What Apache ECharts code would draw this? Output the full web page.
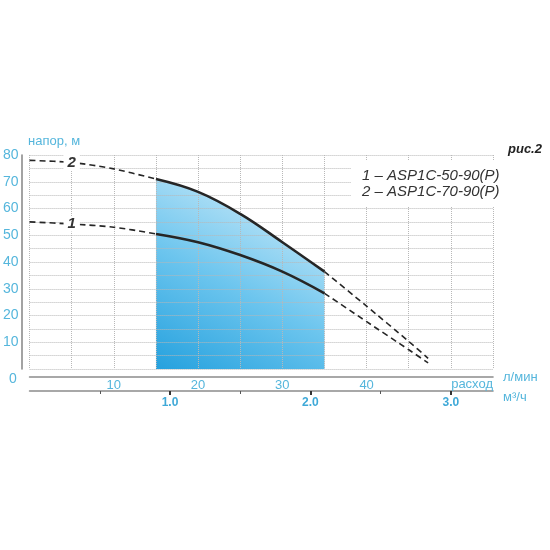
<!DOCTYPE html>
<html>
<head>
<meta charset="utf-8">
<script src="https://cdn.jsdelivr.net/npm/echarts@6/dist/echarts.min.js"></script>
<style>
  html, body { margin: 0; padding: 0; background: #fff; }
  #chart { width: 550px; height: 550px; }
</style>
</head>
<body>
<div id="chart"></div>
<script>
// flow, l/min
const flowStart = [0, 5, 10, 15];
const flowWork = [15, 20, 25, 30, 35];
const flowEnd = [35, 40, 45, 47.3];

// head, m  (1 - ASP1C-50-90(P))
const head50Start = [55, 54.2, 53, 50.5];
const head50Work = [50.5, 47.4, 42.6, 36.4, 28.3];
const head50End = [28.3, 17.7, 7.2, 2.3];

// head, m  (2 - ASP1C-70-90(P))
const head70Start = [78, 77.2, 74.8, 71];
const head70Work = [71, 66.2, 58, 47.4, 36.4];
const head70End = [36.4, 23.5, 10.3, 4];

const modelNames = ['ASP1C-50-90(P)', 'ASP1C-70-90(P)'];
const flowLabels = [10, 20, 30, 40];
const m3Labels = [1, 2, 3];
const m3MinorTicks = [0.5, 1.5, 2.5];
const headLabels = [10, 20, 30, 40, 50, 60, 70, 80];

const blue = '#55b6dc';
const ink = '#262626';

const toPts = (xs, ys) => xs.map((x, i) => [x, ys[i]]);

// dashed part with the number label on the 5 l/min point
function dashedStart(name, ys, num) {
    const data = toPts(flowStart, ys).map((p, i) => {
        if (i !== 1) return p;
        return {
            value: p,
            label: {
                show: true,
                position: 'inside',
                formatter: num,
                fontSize: 15,
                fontStyle: 'italic',
                fontWeight: 'bold',
                color: '#333',
                backgroundColor: '#fff',
                padding: [0, 4]
            }
        };
    });
    return {
        name: name,
        type: 'line',
        data: data,
        smooth: 0.3,
        symbol: 'circle',
        symbolSize: 0.1,
        showSymbol: true,
        lineStyle: { color: ink, width: 1.6, type: [6, 4] },
        itemStyle: { color: ink },
        z: 3,
        silent: true
    };
}

function solid(name, ys) {
    return {
        name: name,
        type: 'line',
        data: toPts(flowWork, ys),
        smooth: 0.4,
        symbol: 'none',
        lineStyle: { color: ink, width: 2.6 },
        itemStyle: { color: ink },
        z: 3,
        silent: true
    };
}

function dashedEnd(name, ys) {
    return {
        name: name,
        type: 'line',
        data: toPts(flowEnd, ys),
        smooth: 0.2,
        symbol: 'none',
        lineStyle: { color: ink, width: 1.6, type: [6, 4] },
        itemStyle: { color: ink },
        z: 3,
        silent: true
    };
}

const chart = echarts.init(document.getElementById('chart'));

const axisLineStyle = { color: '#8c8c8c', width: 1.6 };
const gridLineStyle = { color: '#b8b8b8', type: 'dotted', width: 1 };

const option = {
    animation: false,
    textStyle: { fontFamily: 'Liberation Sans' },
    grid: { left: 28, right: 57, top: 155, bottom: 181 },
    legend: {
        data: modelNames.map(n => ({ name: n, icon: 'none' })),
        orient: 'vertical',
        left: 351,
        top: 160,
        itemWidth: 0,
        itemHeight: 14,
        itemGap: 1,
        padding: [8, 6, 8, 6],
        backgroundColor: '#fff',
        selectedMode: false,
        formatter: name => (modelNames.indexOf(name) + 1) + ' – ' + name,
        textStyle: {
            fontSize: 15,
            lineHeight: 15,
            fontStyle: 'italic',
            color: '#333'
        },
        z: 5
    },
    xAxis: [
        {
            type: 'value',
            min: 0,
            max: 55,
            interval: 5,
            position: 'bottom',
            offset: 8,
            z: 2,
            name: 'л/мин',
            nameLocation: 'end',
            nameGap: 10,
            nameTextStyle: { color: blue, fontSize: 13 },
            axisLine: { show: true, onZero: false, lineStyle: axisLineStyle },
            axisTick: { show: false },
            axisLabel: {
                color: blue,
                fontSize: 13,
                margin: 2,
                formatter: v => flowLabels.indexOf(v) >= 0 ? String(v) : ''
            },
            splitLine: { show: true, lineStyle: gridLineStyle }
        },
        {
            type: 'value',
            min: 0,
            max: 3.3,
            position: 'bottom',
            offset: 22,
            name: 'м³/ч',
            nameLocation: 'end',
            nameGap: 10,
            nameTextStyle: { color: blue, fontSize: 13, verticalAlign: 'top' },
            axisLine: { show: true, onZero: false, lineStyle: axisLineStyle },
            axisTick: {
                show: true,
                customValues: m3Labels,
                length: 4,
                lineStyle: { color: '#333', width: 2 }
            },
            axisLabel: {
                customValues: m3Labels,
                color: '#3fa9d8',
                fontSize: 12,
                fontWeight: 'bold',
                margin: 6,
                formatter: v => v.toFixed(1)
            },
            splitLine: { show: false }
        },
        {
            // small ticks between the m3/h marks
            type: 'value',
            min: 0,
            max: 3.3,
            position: 'bottom',
            offset: 22,
            axisLine: { show: false, onZero: false },
            axisTick: {
                show: true,
                customValues: m3MinorTicks,
                length: 3,
                lineStyle: { color: '#555', width: 1 }
            },
            axisLabel: { show: false },
            splitLine: { show: false }
        }
    ],
    yAxis: {
        type: 'value',
        min: 0,
        max: 80,
        interval: 5,
        offset: 8,
        z: 2,
        axisLine: { show: true, onZero: false, lineStyle: axisLineStyle },
        axisTick: { show: false },
        axisLabel: {
            color: blue,
            fontSize: 14,
            margin: 3,
            formatter: v => headLabels.indexOf(v) >= 0 ? String(v) : ''
        },
        splitLine: { show: true, lineStyle: gridLineStyle }
    },
    graphic: [
        {
            type: 'text', left: 28, top: 135, z: 10,
            style: { text: 'напор, м', fill: blue, fontSize: 13, fontFamily: 'Liberation Sans' }
        },
        {
            type: 'text', left: 508, top: 143, z: 10,
            style: { text: 'рис.2', fill: '#222', fontSize: 13, fontWeight: 'bold', fontStyle: 'italic', fontFamily: 'Liberation Sans' }
        },
        {
            type: 'text', right: 57, top: 378, z: 10,
            style: { text: 'расход', fill: blue, fontSize: 13, fontFamily: 'Liberation Sans' }
        },
        {
            type: 'text', left: 9, top: 372, z: 10,
            style: { text: '0', fill: blue, fontSize: 14, fontFamily: 'Liberation Sans' }
        }
    ],
    series: [
        {
            // working range fill under curve 2
            name: 'fill',
            type: 'line',
            data: toPts(flowWork, head70Work),
            smooth: 0.4,
            symbol: 'none',
            lineStyle: { width: 0 },
            areaStyle: {
                opacity: 1,
                color: new echarts.graphic.LinearGradient(0.6, 0, 0, 1, [
                    { offset: 0, color: '#c6e8f8' },
                    { offset: 0.5, color: '#6cc5ee' },
                    { offset: 1, color: '#25a1de' }
                ])
            },
            z: 1,
            silent: true
        },
        dashedStart(modelNames[1], head70Start, '2'),
        solid(modelNames[1], head70Work),
        dashedEnd(modelNames[1], head70End),
        dashedStart(modelNames[0], head50Start, '1'),
        solid(modelNames[0], head50Work),
        dashedEnd(modelNames[0], head50End)
    ]
};

option && chart.setOption(option);
</script>
</body>
</html>
